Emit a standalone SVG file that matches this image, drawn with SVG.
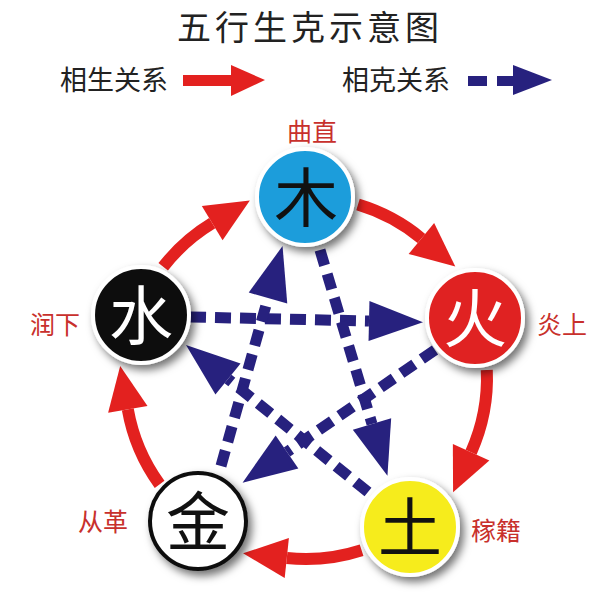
<svg xmlns="http://www.w3.org/2000/svg" width="600" height="600" viewBox="0 0 600 600">
<defs>
<style>
.t{font-family:"Noto Sans CJK SC","Noto Sans",sans-serif;}
.title{font-size:34px;fill:#222;text-anchor:middle;letter-spacing:4px;}
.leg{font-size:27px;fill:#222;}
.lab{font-size:25px;fill:#c8302c;text-anchor:middle;}
.ch{font-size:64px;text-anchor:middle;}
.sheng{fill:none;stroke:#e3211f;stroke-width:12;marker-end:url(#ra);}
.ke{fill:none;stroke:#27217e;stroke-width:11;stroke-dasharray:16 9;marker-end:url(#ba);}
</style>
<marker id="ra" markerUnits="userSpaceOnUse" orient="auto" refX="0" refY="0" markerWidth="50" markerHeight="50" viewBox="-2 -25 50 50" overflow="visible">
<path d="M0,-20 L44,0 L0,20 Z" fill="#e3211f"/>
</marker>
<marker id="ba" markerUnits="userSpaceOnUse" orient="auto" refX="0" refY="0" markerWidth="60" markerHeight="50" viewBox="-2 -25 60 50" overflow="visible">
<path d="M0,-20 L54,0 L0,20 Z" fill="#27217e"/>
</marker>
<filter id="sh" x="-30%" y="-30%" width="170%" height="170%">
<feDropShadow dx="4" dy="5" stdDeviation="4" flood-color="#000" flood-opacity="0.55"/>
</filter>
</defs>
<rect width="600" height="600" fill="#fff"/>
<text class="t title" x="310" y="40">五行生克示意图</text>
<g id="legend">
<text class="t leg" x="60" y="90">相生关系</text>
<rect x="183" y="75" width="50" height="11" fill="#e3211f"/>
<polygon points="231,65 265,80 231,96" fill="#e3211f"/>
<text class="t leg" x="342" y="90">相克关系</text>
<rect x="468" y="76" width="19" height="10" fill="#27217e"/>
<rect x="497" y="76" width="17" height="10" fill="#27217e"/>
<polygon points="513,65 552,80 513,95" fill="#27217e"/>
</g>
<g id="connectors">
<path class="sheng" d="M358,204.6 A181,181 0 0,1 421.4,238.5"/>
<path class="sheng" d="M486.8,370.1 A181,181 0 0,1 471.1,452.2"/>
<path class="sheng" d="M361.6,550.2 A181,181 0 0,1 286.8,558"/>
<path class="sheng" d="M159.6,484.4 A181,181 0 0,1 127.8,409.4"/>
<path class="sheng" d="M163.2,266.8 A181,181 0 0,1 212.2,223.2"/>
<path class="ke" d="M190,317 L369,321"/>
<path class="ke" d="M221,466 L268,298"/>
<path class="ke" d="M320,250 L372,424"/>
<path class="ke" d="M368,492 L228,379"/>
<path class="ke" d="M435,350 L287,452"/>
</g>
<g id="node-mu">
<circle cx="305" cy="197" r="48" fill="#1b9ddb" stroke="#fff" stroke-width="4" filter="url(#sh)"/>
<text class="t ch" x="306" y="221" fill="#111">木</text>
<text class="t lab" x="312" y="141">曲直</text>
</g>
<g id="node-huo">
<circle cx="475" cy="318" r="48" fill="#e02420" stroke="#fff" stroke-width="4" filter="url(#sh)"/>
<text class="t ch" x="475" y="342" fill="#fff">火</text>
<text class="t lab" x="562" y="334">炎上</text>
</g>
<g id="node-tu">
<circle cx="410" cy="527" r="48" fill="#f6ec1c" stroke="#fff" stroke-width="4" filter="url(#sh)"/>
<text class="t ch" x="410" y="551" fill="#111">土</text>
<text class="t lab" x="496" y="540">稼籍</text>
</g>
<g id="node-jin">
<circle cx="198" cy="521" r="48" fill="#fff" stroke="#111" stroke-width="4" filter="url(#sh)"/>
<text class="t ch" x="198" y="545" fill="#111">金</text>
<text class="t lab" x="103" y="531">从革</text>
</g>
<g id="node-shui">
<circle cx="141" cy="315" r="48" fill="#111" stroke="#fff" stroke-width="4" filter="url(#sh)"/>
<text class="t ch" x="141" y="339" fill="#fff">水</text>
<text class="t lab" x="55" y="334">润下</text>
</g>
</svg>
